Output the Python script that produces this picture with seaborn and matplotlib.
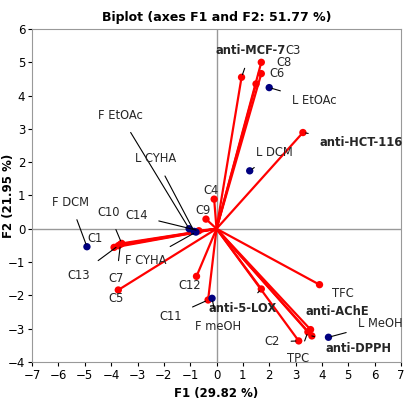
import matplotlib
matplotlib.use("Agg")
import matplotlib.pyplot as plt
import seaborn as sns
import pandas as pd

# variables (red vectors)
var_names = ["anti-MCF-7","C3","C8","C6","anti-HCT-116","C4","C9","C14","C10","C1","C13","C7","C5","C12","C11",
             "anti-5-LOX","TFC","anti-AChE","TPC","anti-DPPH","C2"]
var_x = [0.95,1.7,1.7,1.5,3.28,-0.09,-0.4,-0.67,-3.6,-3.89,-3.73,-3.65,-3.73,-0.76,-0.32,1.7,3.91,3.57,3.47,3.62,3.12]
var_y = [4.55,5.0,4.66,4.35,2.89,0.89,0.29,-0.06,-0.44,-0.56,-0.51,-0.47,-1.84,-1.43,-2.14,-1.81,-1.68,-3.03,-3.1,-3.22,-3.37]
var_lx = [1.3,2.9,2.55,2.3,5.5,-0.2,-0.5,-3.05,-4.1,-4.6,-5.25,-3.8,-3.8,-1.0,-1.75,1.0,4.8,4.6,3.1,5.4,2.1]
var_ly = [5.35,5.35,4.98,4.65,2.6,1.14,0.55,0.4,0.5,-0.3,-1.4,-1.5,-2.1,-1.7,-2.65,-2.4,-1.95,-2.5,-3.9,-3.6,-3.4]
bold_vars = {"anti-MCF-7","anti-HCT-116","anti-5-LOX","anti-AChE","anti-DPPH"}
leader_vars = {"anti-MCF-7","anti-HCT-116","C14","C13","C7","anti-5-LOX","TPC","anti-DPPH","C2","C11","C10"}

# observations (blue points)
obs_names = ["L EtOAc","L DCM","F EtOAc","L CYHA","F CYHA","F DCM","F meOH","L MeOH"]
obs_x = [2.0,1.26,-1.04,-0.85,-0.78,-4.92,-0.17,4.25]
obs_y = [4.24,1.74,0.0,-0.08,-0.1,-0.54,-2.09,-3.26]
obs_lx = [3.7,2.2,-3.65,-2.3,-2.7,-5.55,0.05,6.2]
obs_ly = [3.85,2.28,3.4,2.1,-0.95,0.8,-2.95,-2.85]
leader_obs = {"L EtOAc","L DCM","F EtOAc","L CYHA","F CYHA","F DCM","F meOH","L MeOH"}

fig = plt.figure(figsize=(4.07,4.03), dpi=100)
ax = fig.add_axes([0.079,0.102,0.906,0.826])
sns.set_style("white")
ax.axhline(0, color="#999999", lw=1, zorder=0)
ax.axvline(0, color="#999999", lw=1, zorder=0)
for x, y in zip(var_x, var_y):
    ax.plot([0, x], [0, y], color="red", lw=1.6, zorder=2)
vdf = pd.DataFrame({"x": var_x, "y": var_y})
odf = pd.DataFrame({"x": obs_x, "y": obs_y})
sns.scatterplot(data=vdf, x="x", y="y", color="red", s=28, edgecolor="none", ax=ax, zorder=3)
sns.scatterplot(data=odf, x="x", y="y", color="#000080", s=28, edgecolor="none", ax=ax, zorder=3)

def lab(n, x, y, lx, ly, bold, leader):
    ax.annotate(n, xy=(x, y), xytext=(lx, ly), ha="center", va="center",
                fontsize=8.3, fontweight="bold" if bold else "normal",
                arrowprops=dict(arrowstyle="-", color="black", lw=0.8, shrinkA=6, shrinkB=2) if leader else None,
                zorder=4)

for n, x, y, lx, ly in zip(var_names, var_x, var_y, var_lx, var_ly):
    lab(n, x, y, lx, ly, n in bold_vars, n in leader_vars)
for n, x, y, lx, ly in zip(obs_names, obs_x, obs_y, obs_lx, obs_ly):
    lab(n, x, y, lx, ly, False, n in leader_obs)

ax.set_xlim(-7, 7)
ax.set_ylim(-4, 6)
ax.set_xticks(range(-7, 8))
ax.set_yticks(range(-4, 7))
ax.tick_params(labelsize=8.5, length=3, pad=2, direction="out", left=True, bottom=True)
for s in ax.spines.values():
    s.set_color("#999999")
ax.set_xlabel("F1 (29.82 %)", fontsize=8.5, fontweight="bold")
ax.set_ylabel("F2 (21.95 %)", fontsize=8.5, fontweight="bold")
ax.yaxis.set_label_coords(-0.047, 0.5)
ax.set_title("Biplot (axes F1 and F2: 51.77 %)", fontsize=9, fontweight="bold")
fig.savefig("out.png", dpi=100)
